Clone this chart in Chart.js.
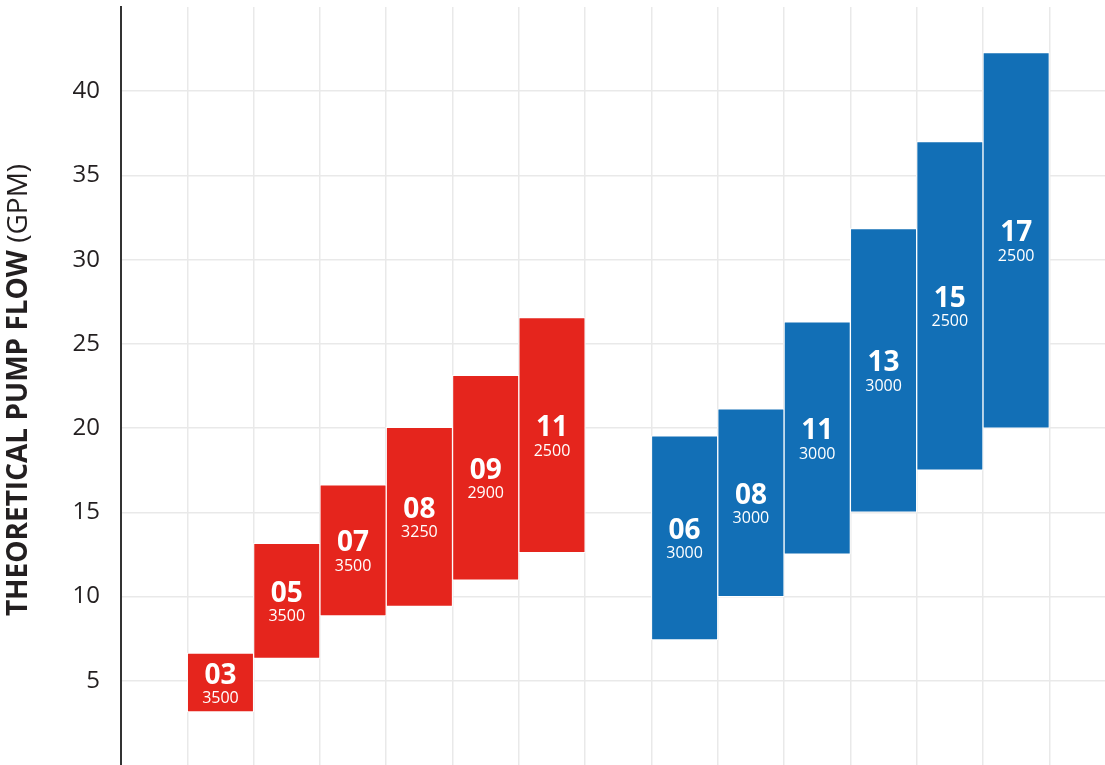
<!DOCTYPE html>
<html>
<head>
<meta charset="utf-8">
<script src="https://cdn.jsdelivr.net/npm/chart.js@4"></script>
<style>
  html, body { margin: 0; padding: 0; background: #ffffff; overflow: hidden; }
  #wrap { width: 1105px; height: 765px; position: relative; }
</style>
</head>
<body>
<div id="wrap"><canvas id="c"></canvas></div>
<script>
// ---- Data ----
const redPositions = [1.5, 2.5, 3.5, 4.5, 5.5, 6.5];
const redModels = ['03', '05', '07', '08', '09', '11'];
const redRpm = ['3500', '3500', '3500', '3250', '2900', '2500'];
const redLow = [3.15, 6.33, 8.85, 9.41, 10.98, 12.61];
const redHigh = [6.64, 13.16, 16.63, 20.05, 23.13, 26.56];

const bluePositions = [8.5, 9.5, 10.5, 11.5, 12.5, 13.5];
const blueModels = ['06', '08', '11', '13', '15', '17'];
const blueRpm = ['3000', '3000', '3000', '3000', '2500', '2500'];
const blueLow = [7.43, 10.0, 12.52, 15.01, 17.5, 19.99];
const blueHigh = [19.54, 21.14, 26.31, 31.84, 37.01, 42.3];

const yTicks = [5, 10, 15, 20, 25, 30, 35, 40];
const xGrid = [0, 1, 2, 3, 4, 5, 6, 7, 8, 9, 10, 11, 12, 13, 14];
const yTitleBold = 'THEORETICAL PUMP FLOW';
const yTitleNormal = ' (GPM)';

const RED = '#E5251D';
const BLUE = '#126FB6';
const FONT = "'Open Sans', 'Noto Sans', sans-serif";

function buildPoints(pos, lo, hi) {
  return pos.map((p, i) => ({ x: p, y: [lo[i], hi[i]] }));
}

const labelPlugin = {
  id: 'barLabels',
  afterDatasetsDraw(chart) {
    const ctx = chart.ctx;
    const sets = [[redModels, redRpm], [blueModels, blueRpm]];
    chart.data.datasets.forEach((ds, di) => {
      const meta = chart.getDatasetMeta(di);
      meta.data.forEach((el, i) => {
        const cy = (el.y + el.base) / 2;
        ctx.save();
        ctx.fillStyle = '#ffffff';
        ctx.textAlign = 'center';
        ctx.textBaseline = 'middle';
        ctx.font = "bold 28px " + FONT;
        ctx.fillText(sets[di][0][i], el.x, cy - 7);
        ctx.font = "16px " + FONT;
        ctx.fillText(sets[di][1][i], el.x, cy + 16);
        ctx.restore();
      });
    });
  }
};

const titlePlugin = {
  id: 'yTitle',
  afterDraw(chart) {
    const ctx = chart.ctx;
    const targetWidth = 470;
    const centerY = 390;
    const x = 19;
    let size = 22;
    ctx.save();
    ctx.font = "bold " + size + "px " + FONT;
    let wb = ctx.measureText(yTitleBold).width;
    ctx.font = size + "px " + FONT;
    let wn = ctx.measureText(yTitleNormal).width;
    size = size * targetWidth / (wb + wn);
    size = Math.min(size, 28);
    ctx.font = "bold " + size + "px " + FONT;
    wb = ctx.measureText(yTitleBold).width;
    ctx.font = size + "px " + FONT;
    wn = ctx.measureText(yTitleNormal).width;
    const total = wb + wn;
    ctx.translate(x, centerY);
    ctx.rotate(-Math.PI / 2);
    ctx.textBaseline = 'middle';
    ctx.textAlign = 'left';
    ctx.fillStyle = '#231f20';
    ctx.font = "bold " + size + "px " + FONT;
    ctx.fillText(yTitleBold, -total / 2, 0);
    ctx.font = size + "px " + FONT;
    ctx.fillText(yTitleNormal, -total / 2 + wb, 0);
    ctx.restore();
  }
};

new Chart(document.getElementById('c'), {
  type: 'bar',
  data: {
    datasets: [
      {
        label: 'Red',
        data: buildPoints(redPositions, redLow, redHigh),
        backgroundColor: RED,
        borderColor: '#ffffff',
        borderWidth: 1,
        borderSkipped: false,
        grouped: false,
        barPercentage: 1,
        categoryPercentage: 1
      },
      {
        label: 'Blue',
        data: buildPoints(bluePositions, blueLow, blueHigh),
        backgroundColor: BLUE,
        borderColor: '#ffffff',
        borderWidth: 1,
        borderSkipped: false,
        grouped: false,
        barPercentage: 1,
        categoryPercentage: 1
      }
    ]
  },
  options: {
    responsive: true,
    maintainAspectRatio: false,
    animation: false,
    layout: { padding: { top: 7, right: 0, bottom: 0, left: 0 } },
    plugins: {
      legend: { display: false },
      tooltip: { enabled: false }
    },
    scales: {
      x: {
        type: 'linear',
        min: 0,
        max: 14.84,
        offset: false,
        afterBuildTicks(scale) { scale.ticks = xGrid.map(v => ({ value: v })); },
        afterFit(scale) { scale.height = 0; scale.paddingLeft = 0; scale.paddingRight = 0; },
        ticks: { display: false },
        grid: { color: '#e9e9e9', lineWidth: 1.5, drawTicks: false, offset: false },
        border: { display: false }
      },
      y: {
        min: 0,
        max: 45,
        offset: false,
        afterBuildTicks(scale) { scale.ticks = yTicks.map(v => ({ value: v })); },
        afterFit(scale) { scale.width = 121; scale.paddingTop = 0; scale.paddingBottom = 0; },
        ticks: {
          color: '#231f20',
          padding: 21,
          font: { family: FONT, size: 24 }
        },
        grid: { color: '#e9e9e9', lineWidth: 1.5, drawTicks: false },
        border: { display: true, color: '#333333', width: 2 }
      }
    }
  },
  plugins: [labelPlugin, titlePlugin]
});
</script>
</body>
</html>
